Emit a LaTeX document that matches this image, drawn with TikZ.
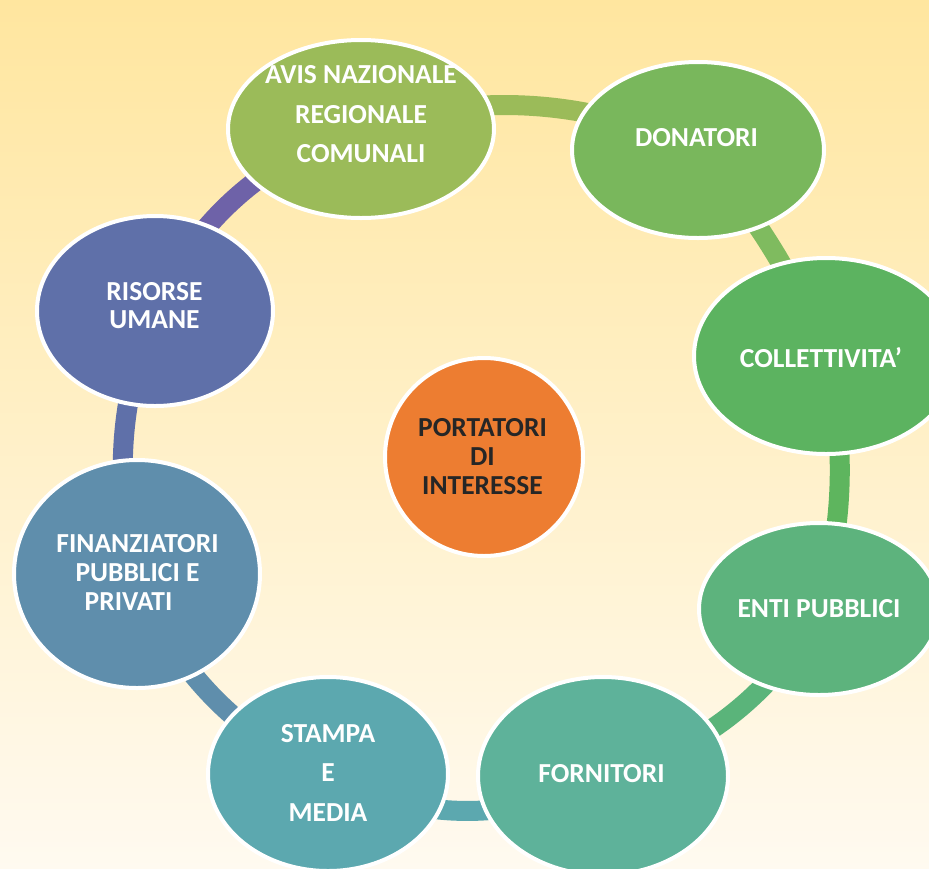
\documentclass[tikz,border=0pt]{standalone}
\usepackage{fontspec}
\setmainfont{Carlito}
\usetikzlibrary{shapes.geometric}
\definecolor{bgtop}{HTML}{FFE69F}
\definecolor{bgbot}{HTML}{FFFAF0}
\definecolor{cavis}{HTML}{9BBB59}
\definecolor{cdon}{HTML}{79B75C}
\definecolor{ccoll}{HTML}{5CB360}
\definecolor{centi}{HTML}{5DB37D}
\definecolor{cforn}{HTML}{5EB29A}
\definecolor{cstam}{HTML}{5CA8AF}
\definecolor{cfin}{HTML}{5F8EAC}
\definecolor{cris}{HTML}{5F70A9}
\definecolor{cpurp}{HTML}{6E62A8}
\definecolor{l2}{HTML}{7FBB5F}
\definecolor{l3}{HTML}{5EB55E}
\definecolor{l4}{HTML}{5AB47A}
\definecolor{corange}{HTML}{ED7D31}
\definecolor{cdark}{HTML}{262626}
\pgfdeclarelayer{bglayer}
\pgfdeclarelayer{linklayer}
\pgfsetlayers{bglayer,linklayer,main}
\begin{document}
\begin{tikzpicture}[x=1pt,y=-1pt,
  bub/.style={ellipse,draw=white,line width=4pt,inner sep=0pt},
  lbl/.style={text=white,font=\bfseries\fontsize{27.5}{29}\selectfont,align=center,inner sep=0pt},
  wide/.style={font=\bfseries\fontsize{27.5}{39.5}\selectfont},
  link/.style={line width=20pt,looseness=0.89}]
\useasboundingbox (0,0) rectangle (929,868);
% ellipses
\node[bub,fill=cavis,minimum width=266pt,minimum height=178pt] (avis) at (361,129) {};
\node[bub,fill=cdon,minimum width=252pt,minimum height=176pt] (don) at (698,150) {};
\node[bub,fill=ccoll,minimum width=264pt,minimum height=196pt] (coll) at (826,356) {};
\node[bub,fill=centi,minimum width=240pt,minimum height=172pt] (enti) at (819,609) {};
\node[bub,fill=cforn,minimum width=250pt,minimum height=198pt] (forn) at (603,776) {};
\node[bub,fill=cstam,minimum width=240pt,minimum height=194pt] (stam) at (328,774) {};
\node[bub,fill=cfin,minimum width=246pt,minimum height=228pt] (fin) at (137,574) {};
\node[bub,fill=cris,minimum width=236pt,minimum height=190pt] (ris) at (155,311) {};
\node[bub,circle,fill=corange,minimum size=198pt] (port) at (484,457) {};
% labels
\node[lbl,wide] (avisT) at (361,114.5) {AVIS NAZIONALE\\REGIONALE\\COMUNALI};
\node[lbl] (donT) at (696.5,138) {DONATORI};
\node[lbl] (collT) at (821,358) {COLLETTIVITA’};
\node[lbl] (entiT) at (819,609) {ENTI PUBBLICI};
\node[lbl] (fornT) at (601.5,774) {FORNITORI};
\node[lbl,wide] (stamT) at (328,772.5) {STAMPA\\E\\MEDIA};
\node[lbl] (finT) at (137.5,572) {FINANZIATORI\\PUBBLICI E\\PRIVATI\hspace*{18pt}};
\node[lbl,font=\bfseries\fontsize{27.5}{28}\selectfont] (risT) at (154.5,306) {RISORSE\\UMANE};
\node[lbl,text=cdark] (portT) at (482.5,457) {PORTATORI\\DI\\INTERESSE};
% connectors
\begin{pgfonlayer}{linklayer}
\draw[link,cavis] (avis.center) to[bend left=22.5] (don.center);
\draw[link,l2] (don.center) to[bend left=10] (coll.center);
\draw[link,l3] (coll.center) to[bend left=15] (enti.center);
\draw[link,l4] (enti.center) to[bend left=25] (forn.center);
\draw[link,cstam] (forn.center) to[bend left=30] (stam.center);
\draw[link,cfin] (stam.center) to[bend left=24.5] (fin.center);
\draw[link,cris] (fin.center) to[bend left=19] (ris.center);
\draw[link,cpurp] (ris.center) to[bend left=26] (avis.center);
\end{pgfonlayer}
\begin{pgfonlayer}{bglayer}
\shade[top color=bgtop,bottom color=bgbot] (0,0) rectangle (929,868);
\end{pgfonlayer}
\end{tikzpicture}
\end{document}
